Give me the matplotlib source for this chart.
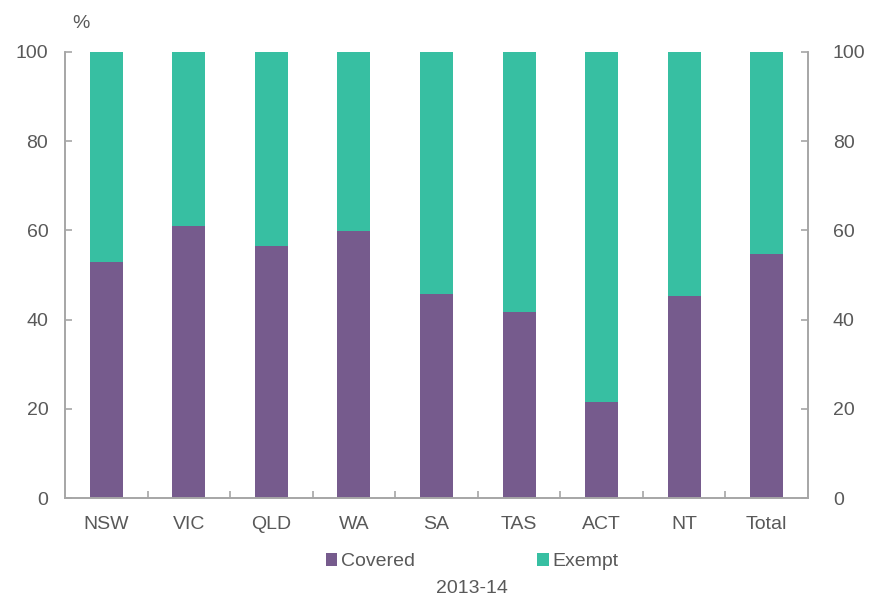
import numpy as np
import matplotlib.pyplot as plt
from matplotlib.ticker import FixedLocator

plt.rcParams['font.family'] = ['Liberation Sans', 'DejaVu Sans']

states = ["NSW", "VIC", "QLD", "WA", "SA", "TAS", "ACT", "NT", "Total"]
covered = [53.0, 61.0, 56.4, 59.9, 45.8, 41.8, 21.6, 45.2, 54.7]
exempt = [100 - c for c in covered]

purple = "#765B8D"
teal = "#37BFA2"
grey = "#595959"
axis_grey = "#A6A6A6"

fig = plt.figure(figsize=(8.7, 5.99), dpi=100)
ax = fig.add_axes([0.0747, 0.1686, 0.8540, 0.7446])

x = np.arange(len(states))
ax.bar(x, covered, width=0.4, color=purple, label="Covered")
ax.bar(x, exempt, width=0.4, bottom=covered, color=teal, label="Exempt")

ax.set_xlim(-0.5, len(states) - 0.5)
ax.set_ylim(0, 100)
ax.set_yticks(range(0, 101, 20))

# right-hand axis, same scale
ax2 = ax.twinx()
ax2.set_ylim(0, 100)
ax2.set_yticks(range(0, 101, 20))

for a in (ax, ax2):
    a.spines["top"].set_visible(False)
    for s in ["left", "right", "bottom"]:
        a.spines[s].set_color(axis_grey)
        a.spines[s].set_linewidth(1.2)

ax.set_xticks(x)
ax.set_xticklabels(states)
ax.xaxis.set_minor_locator(FixedLocator(np.arange(0.5, len(states) - 1, 1)))
ax.tick_params(axis="x", which="major", length=0, pad=13, labelsize=14, labelcolor=grey)
ax.tick_params(axis="x", which="minor", direction="in", length=5, color=axis_grey, width=1.2)
ax.tick_params(axis="y", direction="in", length=5, color=axis_grey, width=1.2,
               labelsize=14, labelcolor=grey, pad=12)
ax2.tick_params(axis="y", direction="in", length=5, color=axis_grey, width=1.2,
                labelsize=14, labelcolor=grey, pad=18)

ax.text(0.01, 1.045, "%", transform=ax.transAxes, fontsize=14, color=grey,
        ha="left", va="bottom")

h, l = ax.get_legend_handles_labels()
ax2.legend(h, l, loc="upper center", bbox_to_anchor=(0.548, -0.085), ncol=2, frameon=False,
           fontsize=14, labelcolor=grey, handlelength=0.6, handleheight=0.6,
           handletextpad=0.2, columnspacing=6.25)
fig.text(0.543, 0.003, "2013-14", ha="center", va="bottom", fontsize=14, color=grey)

fig.savefig("out.png", dpi=100)
